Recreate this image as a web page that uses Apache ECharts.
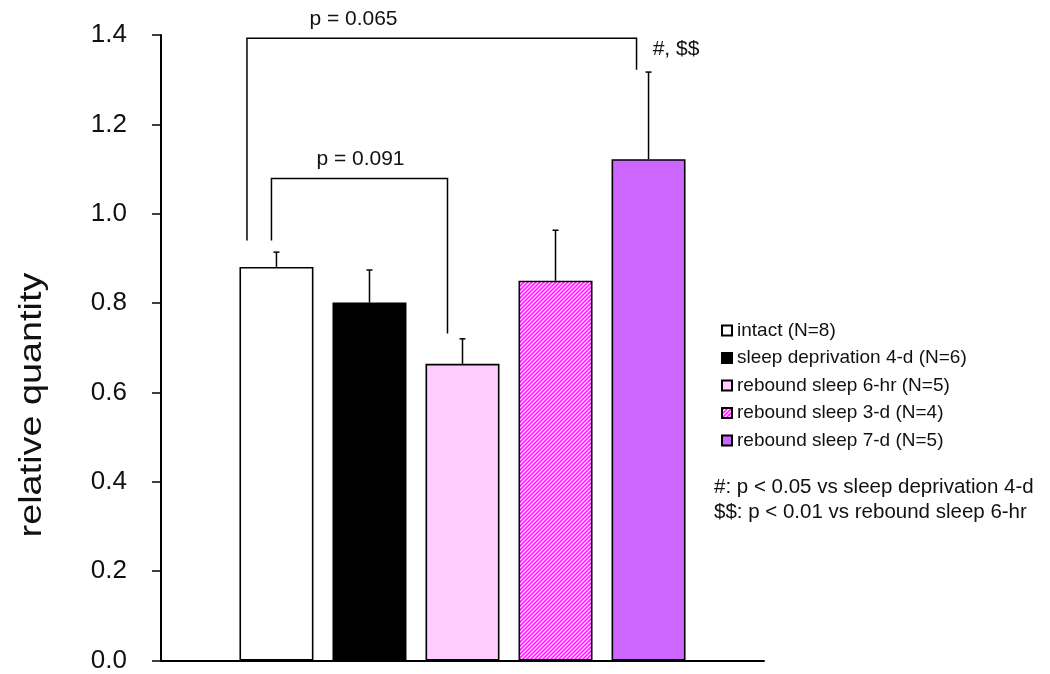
<!DOCTYPE html>
<html><head><meta charset="utf-8">
<script src="https://cdn.jsdelivr.net/npm/echarts@6/dist/echarts.min.js"></script>
<style>html,body{margin:0;padding:0;background:#fff}#c{width:1050px;height:674px}</style>
</head><body><div id="c"></div>
<script>
// ---- data ----
const seriesNames = ['intact (N=8)', 'sleep deprivation 4-d (N=6)', 'rebound sleep 6-hr (N=5)', 'rebound sleep 3-d (N=4)', 'rebound sleep 7-d (N=5)'];
const meanValues = [0.881, 0.801, 0.664, 0.850, 1.122];
const errorValues = [0.033, 0.073, 0.056, 0.113, 0.195];
const yTickValues = [0, 0.2, 0.4, 0.6, 0.8, 1.0, 1.2, 1.4];
const bracketLabels = ['p = 0.065', 'p = 0.091'];
const bracketFrom = [0, 0];
const bracketTo = [4, 2];
const bracketTop = [1.393, 1.079];
const bracketFromEnd = [0.940, 0.940];
const bracketToEnd = [1.322, 0.732];
const sigLabel = '#, $$';
const notes = ['#: p < 0.05 vs sleep deprivation 4-d', '$$: p < 0.01 vs rebound sleep 6-hr'];
const yAxisTitle = 'relative quantity';

// ---- styling ----
const FONT = '"Liberation Sans", Arial, sans-serif';
function hatch() {
  const c = document.createElement('canvas');
  c.width = 4; c.height = 4;
  const g = c.getContext('2d');
  g.fillStyle = '#ff22ff'; g.fillRect(0, 0, 4, 4);
  g.strokeStyle = '#ffffff'; g.lineWidth = 1.1;
  g.beginPath();
  g.moveTo(-1, 5); g.lineTo(5, -1);
  g.moveTo(-3, 3); g.lineTo(3, -3);
  g.moveTo(1, 7); g.lineTo(7, 1);
  g.stroke();
  return c;
}
const colors = ['#ffffff', '#000000', '#ffccff', { image: hatch(), repeat: 'repeat' }, '#cc66ff'];
const bracketOffsets = [[-29.5, -12], [-5, -15]];
const bracketLabelDx = [77, 84];

const chart = echarts.init(document.getElementById('c'), null, { renderer: 'canvas' });
chart.setOption({
  animation: false,
  backgroundColor: '#fff',
  grid: { left: 161, right: 286, top: 35, bottom: 13.5, containLabel: false },
  legend: {
    orient: 'vertical', left: 716, top: 316,
    itemWidth: 10, itemHeight: 10, itemGap: 8.5,
    icon: 'rect',
    selectedMode: false,
    textStyle: { fontSize: 19, color: '#111', fontFamily: FONT },
    data: seriesNames
  },
  xAxis: {
    type: 'category', data: [''],
    axisLine: { lineStyle: { color: '#000', width: 2 } },
    axisTick: { show: false }, axisLabel: { show: false }, splitLine: { show: false }
  },
  yAxis: {
    type: 'value', min: yTickValues[0], max: yTickValues[yTickValues.length - 1], interval: 0.2,
    axisLine: { show: true, lineStyle: { color: '#000', width: 2 } },
    axisTick: { show: true, length: 9, lineStyle: { color: '#000', width: 1.5 } },
    splitLine: { show: false },
    axisLabel: { formatter: v => v.toFixed(1), fontSize: 26, color: '#111', fontFamily: FONT, margin: 34 }
  },
  series: seriesNames.map((n, i) => ({
    type: 'bar', name: n, data: [meanValues[i]],
    barWidth: 74, barGap: '25.7%',
    itemStyle: { color: colors[i], borderColor: '#000', borderWidth: 1.6 },
    silent: true
  }))
});

function draw() {
  const model = chart.getModel();
  const cx = seriesNames.map((n, i) => {
    const l = model.getSeriesByIndex(i).getData().getItemLayout(0);
    return l.x + l.width / 2;
  });
  const py = v => chart.convertToPixel({ yAxisIndex: 0 }, v);
  const g = [];
  // error bars
  meanValues.forEach((m, i) => {
    const y0 = py(m), y1 = py(m + errorValues[i]);
    g.push({ type: 'line', shape: { x1: cx[i], y1: y0, x2: cx[i], y2: y1 }, style: { stroke: '#000', lineWidth: 1.5 } });
    g.push({ type: 'line', shape: { x1: cx[i] - 3, y1: y1, x2: cx[i] + 3, y2: y1 }, style: { stroke: '#000', lineWidth: 1.5 } });
  });
  // brackets
  bracketLabels.forEach((lab, k) => {
    const xa = cx[bracketFrom[k]] + bracketOffsets[k][0];
    const xb = cx[bracketTo[k]] + bracketOffsets[k][1];
    const yt = py(bracketTop[k]);
    g.push({ type: 'polyline', shape: { points: [[xa, py(bracketFromEnd[k])], [xa, yt], [xb, yt], [xb, py(bracketToEnd[k])]] },
      style: { stroke: '#000', lineWidth: 1.5, fill: null } });
    g.push({ type: 'text', x: cx[bracketFrom[k]] + bracketLabelDx[k], y: yt - 19,
      style: { text: lab, font: '21px ' + FONT, fill: '#111', align: 'center', verticalAlign: 'middle' } });
  });
  // significance label
  g.push({ type: 'text', x: cx[4] + 27.5, y: py(bracketToEnd[0]) - 21,
    style: { text: sigLabel, font: '21px ' + FONT, fill: '#111', align: 'center', verticalAlign: 'middle' } });
  // notes
  notes.forEach((t, k) => {
    g.push({ type: 'text', x: 714, y: 487 + k * 25,
      style: { text: t, font: '20.5px ' + FONT, fill: '#111', align: 'left', verticalAlign: 'middle' } });
  });
  // y axis title
  g.push({ type: 'text', x: 32, y: 405, rotation: Math.PI / 2, scaleX: 1.22,
    style: { text: yAxisTitle, font: '31px ' + FONT, fill: '#111', align: 'center', verticalAlign: 'middle' } });
  chart.setOption({ graphic: g });
}
draw();
</script>
</body></html>
